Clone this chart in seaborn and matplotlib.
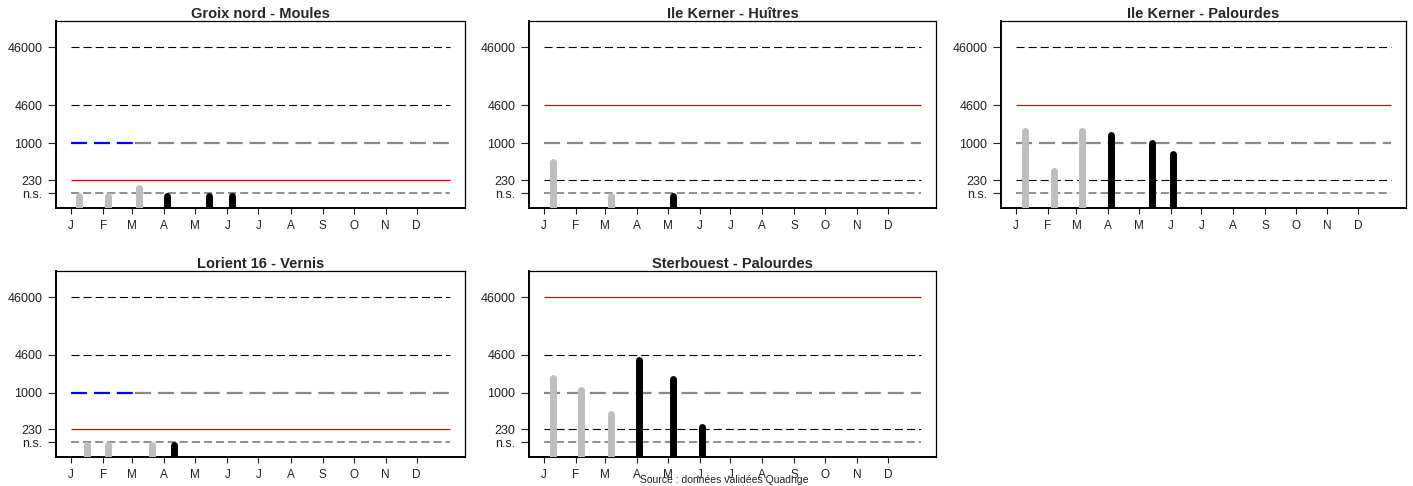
import matplotlib
matplotlib.use("Agg")
import matplotlib.pyplot as plt
import seaborn as sns

# --- données ---
sites = [
    "Groix nord - Moules",
    "Ile Kerner - Huîtres",
    "Ile Kerner - Palourdes",
    "Lorient 16 - Vernis",
    "Sterbouest - Palourdes",
]
mois = ["J", "F", "M", "A", "M", "J", "J", "A", "S", "O", "N", "D"]
jours_mois = [0, 31, 59, 90, 120, 151, 181, 212, 243, 273, 304, 334]

seuils = [46000, 4600, 1000, 230]
NS_LIGNE = 136    # position du repère "n.s."
NS_BARRE = 123    # hauteur des barres non significatives

# année précédente (gris)
jours_gris = [
    [8, 36, 66],
    [8.5, 64.6],
    [8.5, 36.6, 64.6],
    [15, 36, 78],
    [8.5, 35.6, 64.6],
]
valeurs_gris = [
    [NS_BARRE, NS_BARRE, 170],
    [480, NS_BARRE],
    [1650, 335, 1650],
    [NS_BARRE, NS_BARRE, NS_BARRE],
    [1780, 1100, 425],
]
# année en cours (noir)
jours_noir = [
    [92.6, 133, 155],
    [125.5],
    [92.6, 133, 153.5],
    [99.4],
    [92.6, 125.5, 153.5],
]
valeurs_noir = [
    [NS_BARRE, NS_BARRE, NS_BARRE],
    [NS_BARRE],
    [1400, 1020, 660],
    [NS_BARRE],
    [3650, 1710, 250],
]
seuil_rouge = [230, 4600, 4600, 230, 46000]
bleu_jan_mars = [True, False, False, True, False]

# --- mise en forme ---
sns.set_theme(style="ticks")
plt.rcParams["font.family"] = ["Liberation Sans", "DejaVu Sans"]
plt.rcParams["lines.scale_dashes"] = False

fig = plt.figure(figsize=(14.13, 4.86), dpi=100)
W, H = 1413, 486
positions = [
    (56, 21, 409, 187), (529, 21, 407, 187), (1001, 21, 405, 187),
    (56, 271, 409, 186), (529, 271, 407, 186),
]

tirets_fins = (0, (5.8, 2.9))
tirets_epais = (0, (11.5, 5.0))

for i, site in enumerate(sites):
    x0, y0, w, h = positions[i]
    ax = fig.add_axes([x0 / W, 1 - (y0 + h) / H, w / W, h / H])
    ax.set_yscale("log")
    ax.set_xlim(-14.64, 380.64)
    ax.set_ylim(75.9, 131800)

    # seuils
    for s in seuils:
        if s == seuil_rouge[i]:
            ax.hlines(s, 0, 366, color="#e00000", lw=0.9, zorder=2)
        elif s == 1000:
            if bleu_jan_mars[i]:
                ax.hlines(s, 0, 60, color="#0000ff", lw=1.6, linestyles=tirets_epais, zorder=2)
                ax.hlines(s, 62, 366, color="#888888", lw=1.6, linestyles=tirets_epais, zorder=2)
            else:
                ax.hlines(s, 0, 366, color="#888888", lw=1.6, linestyles=tirets_epais, zorder=2)
        else:
            ax.hlines(s, 0, 366, color="black", lw=0.8, linestyles=tirets_fins, zorder=2)
    ax.hlines(NS_LIGNE, 0, 366, color="#707070", lw=1.1, linestyles=tirets_fins, zorder=2)

    # barres
    ax.vlines(jours_gris[i], 1, valeurs_gris[i], color="#bebebe", lw=5,
              capstyle="round", zorder=3)
    ax.vlines(jours_noir[i], 1, valeurs_noir[i], color="black", lw=5,
              capstyle="round", zorder=4)

    ax.set_yticks([NS_LIGNE, 230, 1000, 4600, 46000])
    ax.set_yticklabels(["n.s.", "230", "1000", "4600", "46000"])
    ax.minorticks_off()
    ax.set_xticks(jours_mois)
    ax.set_xticklabels(mois)
    ax.tick_params(axis="y", length=5.5, width=0.8, pad=4.3, labelsize=9, colors="#222222")
    ax.tick_params(axis="x", length=4, width=0.8, pad=4.5, labelsize=8.5, colors="#222222")
    for side, sp in ax.spines.items():
        sp.set_color("black")
        sp.set_linewidth(1.4 if side in ("left", "bottom") else 0.9)
    ax.set_title(site, fontsize=10.5, fontweight="bold", pad=2)

fig.text(724 / W, 1 - 480 / H, "Source : données validées Quadrige",
         ha="center", va="center", fontsize=7.5, color="#222222")

fig.savefig("out.png", dpi=100)
